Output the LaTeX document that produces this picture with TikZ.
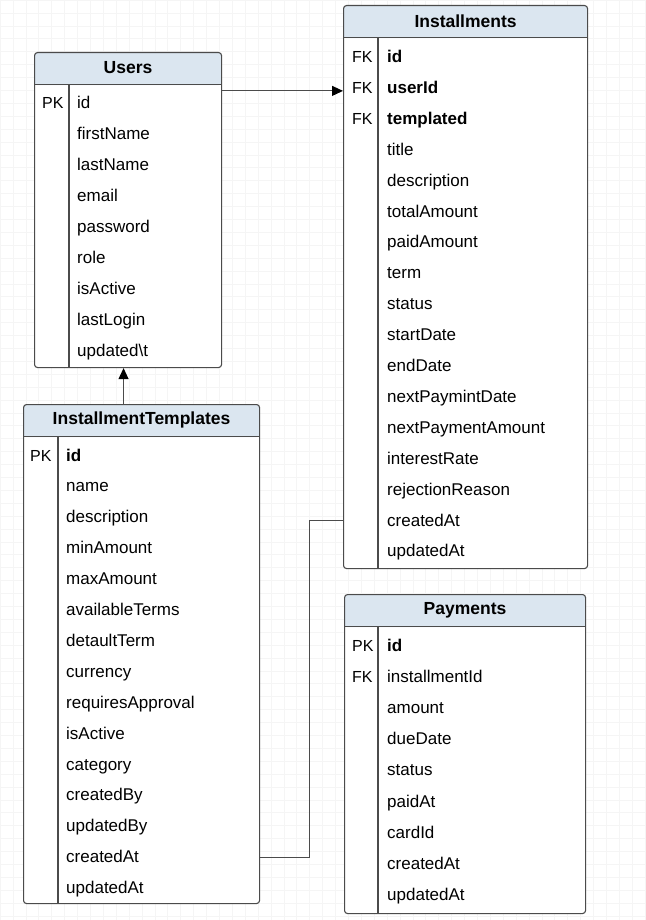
\documentclass[tikz,border=0pt]{standalone}
\usepackage{fontspec}
\setmainfont{Liberation Sans}
\usetikzlibrary{arrows.meta, positioning}

\definecolor{hdrblue}{RGB}{219,230,240}
\definecolor{edgegray}{RGB}{75,75,75}

\tikzset{
  ertable/.style={draw=edgegray, line width=1.1pt, fill=white, rounded corners=3pt,
    inner sep=0pt, anchor=north west,
    path picture={\fill[hdrblue] (path picture bounding box.north west)
      rectangle ([yshift=-32.5pt]path picture bounding box.north east);}},
  tabtitle/.style={font=\fontsize{17.5}{20}\selectfont\bfseries},
  field/.style={anchor=west, inner sep=0pt, text height=11pt, text depth=0pt,
    font=\fontsize{17}{20}\selectfont},
  keycol/.style={field, font=\fontsize{16}{20}\selectfont},
  link/.style={draw=edgegray, line width=1.1pt},
  rule/.style={draw=edgegray, line width=1.1pt},
  head/.style={-{Triangle[length=11pt, width=10pt, color=black]}}
}

\begin{document}
\begin{tikzpicture}[x=1pt, y=-1pt]
  \useasboundingbox (0,0) rectangle (645,920);
  \draw[black!4, line width=0.5pt, step=12.9pt] (0,0) grid (645,920);

  % Users
  \node[ertable, minimum width=187pt, minimum height=315pt] (users) at (34,52) {};
  \node[tabtitle] (users-title) at ([yshift=-16pt]users.north) {Users};
  \draw[rule] ([yshift=-32.5pt]users.north west) -- ([yshift=-32.5pt]users.north east);
  \draw[rule] ([shift={(35pt,-32.5pt)}]users.north west) -- ([xshift=35pt]users.south west);
  \foreach \f [count=\i] in {id, firstName, lastName, email, password, role, isActive,
      lastLogin, updated\textbackslash t}
    \node[field, xshift=43pt, yshift={-(51.5+(\i-1)*30.9)*1pt}] (users-\i) at (users.north west) {\f};
  \node[keycol, xshift=8pt] (users-pk) at (users.west |- users-1) {PK};

  % Installments
  \node[ertable, minimum width=244pt, minimum height=563pt] (inst) at (343,5) {};
  \node[tabtitle] (inst-title) at ([yshift=-16.5pt]inst.north) {Installments};
  \draw[rule] ([yshift=-32.5pt]inst.north west) -- ([yshift=-32.5pt]inst.north east);
  \draw[rule] ([shift={(35pt,-32.5pt)}]inst.north west) -- ([xshift=35pt]inst.south west);
  \foreach \f [count=\i] in {\textbf{id}, \textbf{userId}, \textbf{templated}, title,
      description, totalAmount, paidAmount, term, status, startDate, endDate,
      nextPaymintDate, nextPaymentAmount, interestRate, rejectionReason, createdAt, updatedAt}
    \node[field, xshift=44pt, yshift={-(52+(\i-1)*30.9)*1pt}] (inst-\i) at (inst.north west) {\f};
  \foreach \i in {1,2,3}
    \node[keycol, xshift=9pt] (inst-fk\i) at (inst.west |- inst-\i) {FK};

  % InstallmentTemplates
  \node[ertable, minimum width=236pt, minimum height=499pt] (tmpl) at (23,404) {};
  \node[tabtitle] (tmpl-title) at ([yshift=-16pt]tmpl.north) {InstallmentTemplates};
  \draw[rule] ([yshift=-32.5pt]tmpl.north west) -- ([yshift=-32.5pt]tmpl.north east);
  \draw[rule] ([shift={(35pt,-32.5pt)}]tmpl.north west) -- ([xshift=35pt]tmpl.south west);
  \foreach \f [count=\i] in {\textbf{id}, name, description, minAmount, maxAmount,
      availableTerms, detaultTerm, currency, requiresApproval, isActive, category,
      createdBy, updatedBy, createdAt, updatedAt}
    \node[field, xshift=43pt, yshift={-(51.5+(\i-1)*30.9)*1pt}] (tmpl-\i) at (tmpl.north west) {\f};
  \node[keycol, xshift=7pt] (tmpl-pk) at (tmpl.west |- tmpl-1) {PK};

  % Payments
  \node[ertable, minimum width=241pt, minimum height=319pt] (pay) at (344,594) {};
  \node[tabtitle] (pay-title) at ([yshift=-16.5pt]pay.north) {Payments};
  \draw[rule] ([yshift=-32.5pt]pay.north west) -- ([yshift=-32.5pt]pay.north east);
  \draw[rule] ([shift={(34pt,-32.5pt)}]pay.north west) -- ([xshift=34pt]pay.south west);
  \foreach \f [count=\i] in {\textbf{id}, installmentId, amount, dueDate, status, paidAt,
      cardId, createdAt, updatedAt}
    \node[field, xshift=43pt, yshift={-(52+(\i-1)*31.1)*1pt}] (pay-\i) at (pay.north west) {\f};
  \node[keycol, xshift=8pt] (pay-pk) at (pay.west |- pay-1) {PK};
  \node[keycol, xshift=8pt] (pay-fk) at (pay.west |- pay-2) {FK};

  % relations
  \coordinate (up) at ([xshift=-4.5pt]users.south);
  \draw[link, head] ([yshift=-3pt]users.east |- inst-2) -- ([yshift=-3pt]inst.west |- inst-2);
  \draw[link, head] (up |- tmpl.north) -- (up);
  \draw[link] (tmpl.east |- tmpl-14) -- ++(49pt,0) |- (inst.west |- inst-16);
\end{tikzpicture}
\end{document}
